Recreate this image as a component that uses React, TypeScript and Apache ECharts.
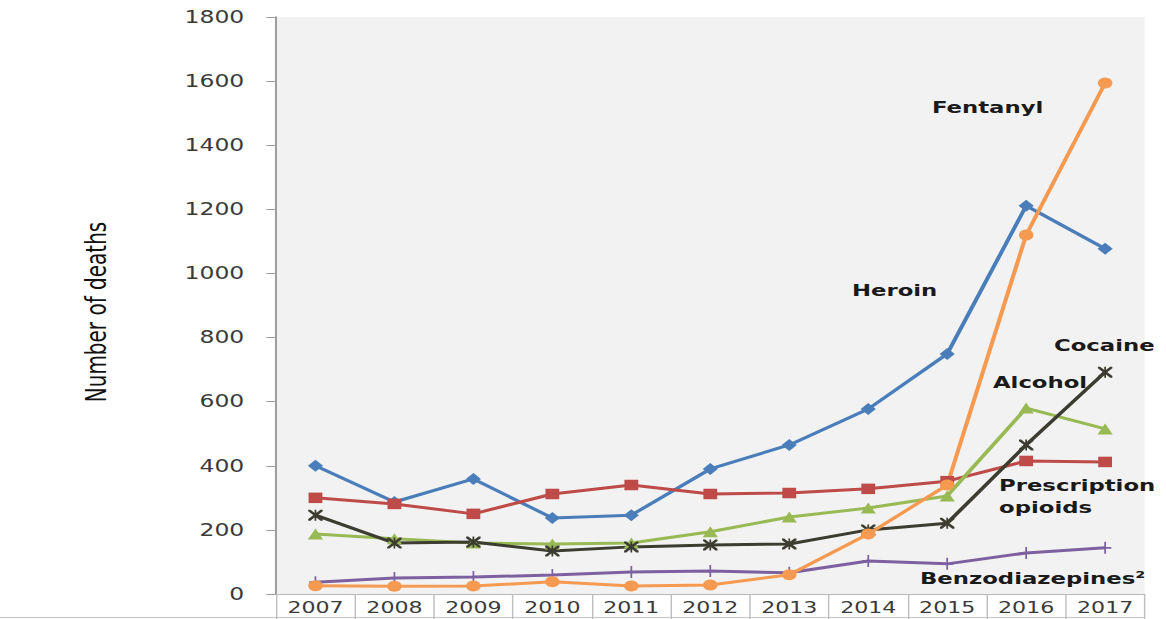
import React, { useEffect, useRef } from "react";
import * as echarts from "echarts";

const years = ["2007", "2008", "2009", "2010", "2011", "2012", "2013", "2014", "2015", "2016", "2017"];
const heroin = [400, 287, 359, 237, 246, 390, 465, 577, 749, 1211, 1077];
const prescriptionOpioids = [300, 281, 250, 312, 340, 312, 315, 328, 352, 415, 412];
const alcohol = [187, 172, 159, 156, 159, 194, 240, 268, 306, 580, 515];
const benzodiazepines = [37, 50, 53, 59, 69, 72, 66, 103, 94, 128, 144];
const cocaine = [246, 159, 162, 134, 147, 153, 156, 200, 221, 465, 692];
const fentanyl = [26, 24, 25, 38, 25, 28, 60, 187, 340, 1120, 1594];

const yTicks = { min: 0, max: 1800, interval: 200 };

const STAR =
  "path://M0,0 L1.5,0 L10,8.5 L10,10 L8.5,10 L0,1.5 Z M10,0 L10,1.5 L1.5,10 L0,10 L0,8.5 L8.5,0 Z M4.4,0 L5.6,0 L5.6,10 L4.4,10 Z";
const PLUS =
  "path://M4.3,0 L5.7,0 L5.7,4.3 L10,4.3 L10,5.7 L5.7,5.7 L5.7,10 L4.3,10 L4.3,5.7 L0,5.7 L0,4.3 L4.3,4.3 Z";

const W0 = 845;
const H = 619;
const SX = 1166 / W0;

export default function App() {
  const ref = useRef<HTMLDivElement>(null);

  useEffect(() => {
    document.body.style.margin = "0";
    document.body.style.overflow = "hidden";
    const chart = echarts.init(ref.current!, undefined, { renderer: "svg" });

    const mk = (name: string, data: number[], color: string, symbol: string, size: any) => ({
      name,
      type: "line",
      data,
      symbol,
      symbolSize: size,
      showSymbol: true,
      lineStyle: { color, width: 3 },
      itemStyle: { color, borderWidth: 0 },
      emphasis: { disabled: true },
    });

    const labelStyle = (text: string) => ({
      text,
      fontFamily: "DejaVu Sans",
      fontWeight: "bold",
      fontSize: 16.5,
      fill: "#1a1a1a",
      verticalAlign: "middle",
      align: "left",
    });

    chart.setOption({
      animation: false,
      backgroundColor: "#ffffff",
      grid: {
        left: 200,
        right: 15.5,
        top: 17,
        bottom: 25,
        show: true,
        backgroundColor: "#f2f2f2",
        borderWidth: 0,
      },
      xAxis: {
        type: "category",
        data: years,
        boundaryGap: true,
        axisLine: { show: true, lineStyle: { color: "#b8b8b8", width: 1 } },
        axisTick: { show: true, length: 25, interval: 0, lineStyle: { color: "#bdbdbd", width: 1 } },
        axisLabel: {
          interval: 0,
          margin: 6,
          fontFamily: "DejaVu Sans",
          fontSize: 16,
          color: "#3a3a3a",
        },
        splitLine: { show: false },
      },
      yAxis: {
        type: "value",
        min: yTicks.min,
        max: yTicks.max,
        interval: yTicks.interval,
        axisLine: { show: true, lineStyle: { color: "#9e9e9e", width: 1.5 } },
        axisTick: { show: true, inside: false, length: 7, lineStyle: { color: "#9e9e9e", width: 1 } },
        axisLabel: {
          margin: 23,
          fontFamily: "DejaVu Sans",
          fontSize: 17,
          color: "#3a3a3a",
          formatter: (v: number) => String(v),
        },
        splitLine: { show: false },
      },
      series: [
        mk("Heroin", heroin, "#4a7ebb", "diamond", [11, 12]),
        mk("Prescription opioids", prescriptionOpioids, "#be4b48", "rect", [10, 10.5]),
        mk("Alcohol", alcohol, "#98b954", "triangle", [11, 11]),
        mk("Benzodiazepines", benzodiazepines, "#7d60a0", PLUS, [9, 12]),
        mk("Cocaine", cocaine, "#3c3c30", STAR, [10.5, 11]),
        mk("Fentanyl", fentanyl, "#f59a50", "circle", [10.5, 11]),
      ],
      graphic: [
        { type: "text", x: 675.4, y: 108, style: labelStyle("Fentanyl") },
        { type: "text", x: 617.4, y: 291, style: labelStyle("Heroin") },
        { type: "text", x: 763.8, y: 346, style: labelStyle("Cocaine") },
        { type: "text", x: 719.6, y: 383, style: labelStyle("Alcohol") },
        { type: "text", x: 724, y: 486, style: labelStyle("Prescription") },
        { type: "text", x: 724, y: 508, style: labelStyle("opioids") },
        { type: "text", x: 666.7, y: 579, style: labelStyle("Benzodiazepines²") },
        {
          type: "text",
          x: 70,
          y: 312,
          rotation: Math.PI / 2,
          style: {
            text: "Number of deaths",
            fontFamily: "DejaVu Sans",
            fontSize: 20,
            fill: "#111111",
            align: "center",
            verticalAlign: "middle",
          },
        },
        {
          type: "line",
          shape: { x1: 0, y1: 617.5, x2: 829.5, y2: 617.5 },
          style: { stroke: "#c4c4c4", lineWidth: 1 },
        },
      ],
    });

    return () => chart.dispose();
  }, []);

  return (
    <div
      ref={ref}
      style={{
        position: "absolute",
        left: 0,
        top: 0,
        width: W0,
        height: H,
        transform: `scaleX(${SX})`,
        transformOrigin: "0 0",
      }}
    />
  );
}
